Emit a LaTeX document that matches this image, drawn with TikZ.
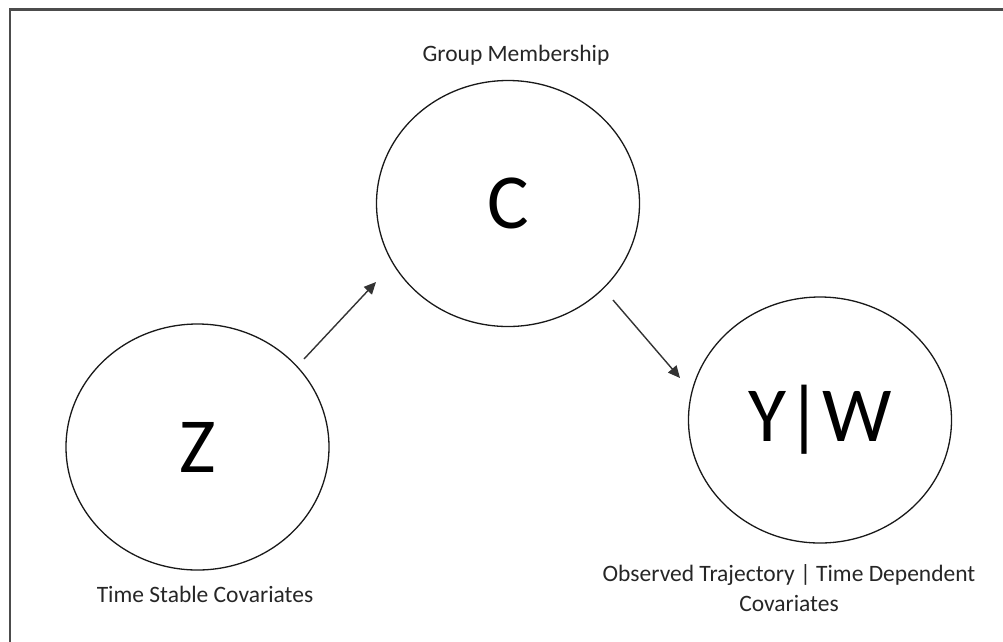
\documentclass[tikz,border=0pt]{standalone}
\usepackage{fontspec}
\setmainfont{Carlito}
\usetikzlibrary{shapes.geometric,arrows.meta}
\begin{document}
\begin{tikzpicture}[x=1pt,y=-1pt,
  var/.style={draw=black!90,line width=1.3pt,ellipse,minimum width=263pt,minimum height=246pt,inner sep=0pt,font=\fontsize{78}{80}\selectfont},
  lbl/.style={font=\fontsize{23.5}{30}\selectfont,align=center,text=black!85,anchor=base,inner sep=0pt},
  conn/.style={line width=1.4pt,draw=black!80,-{Triangle[length=12pt,width=11pt]}}]
\useasboundingbox (0,0) rectangle (1003,641);
\begin{scope}
\clip (0,0) rectangle (1003,641);
\draw[line width=2.2pt,draw=black!70] (9.7,9.5) rectangle (1030,670);
\end{scope}
\node[var] (C) at (508,203.5) {C};
\node[var] (Z) at (197.5,447) {Z};
\node[var] (YW) at (820,420) {Y|W};
\node[lbl] (lC) at (516,61) {Group Membership};
\node[lbl] (lZ) at (205,602) {Time Stable Covariates};
\node[lbl] (lYW) at (789,611.7) {Observed Trajectory | Time Dependent\\Covariates};
\coordinate (a1s) at (304,359);
\coordinate (a1e) at (376,282);
\coordinate (a2s) at (613,300);
\coordinate (a2e) at (680,378);
\draw[conn] (a1s) -- (a1e);
\draw[conn] (a2s) -- (a2e);
\end{tikzpicture}
\end{document}
